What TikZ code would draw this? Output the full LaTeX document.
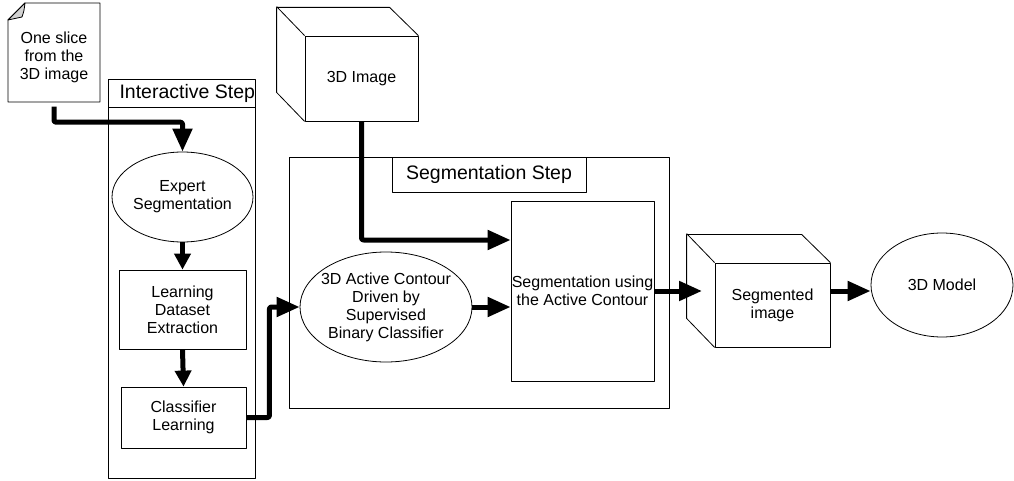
\documentclass[tikz,border=0pt]{standalone}
\usepackage{fontspec}
\setmainfont{Liberation Sans}
\usetikzlibrary{arrows.meta,shapes.geometric}
\begin{document}
\begin{tikzpicture}[x=1pt,y=-1pt,line join=round,
	font=\fontsize{16}{18}\selectfont,
	box/.style={draw,line width=0.8pt,inner sep=0pt,align=center},
	oval/.style={draw,ellipse,line width=0.8pt,inner sep=0pt,label={[align=center]center:#1}},
	title/.style={font=\fontsize{19.5}{22}\selectfont},
	flow/.style={line width=5pt,rounded corners=2pt,-{Triangle[length=23pt,width=19pt]}},
	flowsm/.style={line width=5pt,-{Triangle[length=16pt,width=16pt]}}]
	\useasboundingbox (0,0) rectangle (1014,481);
	% input slice
	\node[align=center,minimum width=92,minimum height=99,inner sep=0pt] (doc) at (54,57) {One slice\\from the\\3D image};
	\draw[line width=0.8pt] (25,3) -- (100,3) -- (100,102) -- (8,102) -- (8,20) -- cycle;
	\filldraw[line width=0.8pt,fill=gray!35] (8,20) -- (25,3) .. controls (24,11) .. (22,17) -- cycle;
	% interactive step
	\draw[line width=0.8pt] (108,79) rectangle (255,478);
	\draw[line width=0.8pt] (108,107) -- (255,107);
	\node[anchor=west,title] (inter) at (116,93) {Interactive Step};
	\node[oval={Expert\\Segmentation},minimum width=141,minimum height=90] (expert) at (182.5,197) {};
	\node[box,minimum width=127,minimum height=79] (dataset) at (182.5,309.5) {Learning\\Dataset\\Extraction};
	\node[box,minimum width=125,minimum height=61] (learn) at (183.5,417.5) {Classifier\\Learning};
	% segmentation step
	\draw[line width=0.8pt] (289,157) rectangle (669,408);
	\node[box,minimum width=194,minimum height=35,title] (segstep) at (489,174.5) {Segmentation Step};
	\node[oval={3D Active Contour\\Driven by\\Supervised\\Binary Classifier},minimum width=172,minimum height=110] (contour) at (386,307) {};
	\node[box,minimum width=143,minimum height=180] (segac) at (582.5,291) {Segmentation using\\the Active Contour};
	% cubes
	\node[box,minimum width=113,minimum height=85] (img3d) at (361.5,78.5) {3D Image};
	\draw[line width=0.8pt] (img3d.south west) -- ++(-28,-29) -- ++(0,-85) -- ++(113,0) -- (img3d.north east);
	\draw[line width=0.8pt] (img3d.north west) -- ++(-28,-29);
	\node[box,minimum width=115,minimum height=84] (segimg) at (772.5,305) {Segmented\\image};
	\draw[line width=0.8pt] (segimg.south west) -- ++(-28,-29) -- ++(0,-84) -- ++(115,0) -- (segimg.north east);
	\draw[line width=0.8pt] (segimg.north west) -- ++(-28,-29);
	\node[oval={3D Model},minimum width=142,minimum height=104] (model) at (942,285) {};
	\coordinate (segin) at (702,291);
	% connectors
	\draw[flow] (doc.south) -- ++(0,15.5) -| (expert.north);
	\draw[flowsm] (expert.south) -- (dataset.north);
	\draw[flowsm] (dataset.south) -- (learn.north);
	\draw[flow] (learn.east) -- ++(23,0) |- (contour.west);
	\draw[flow] (img3d.south) |- ([yshift=51pt]segac.west);
	\draw[flow] (contour.east) -- (contour.east -| segac.west);
	\draw[flow] (segac.east) -- (segin);
	\draw[flow] (segimg.east |- segac.east) -- (segac.east -| model.west);
\end{tikzpicture}
\end{document}
